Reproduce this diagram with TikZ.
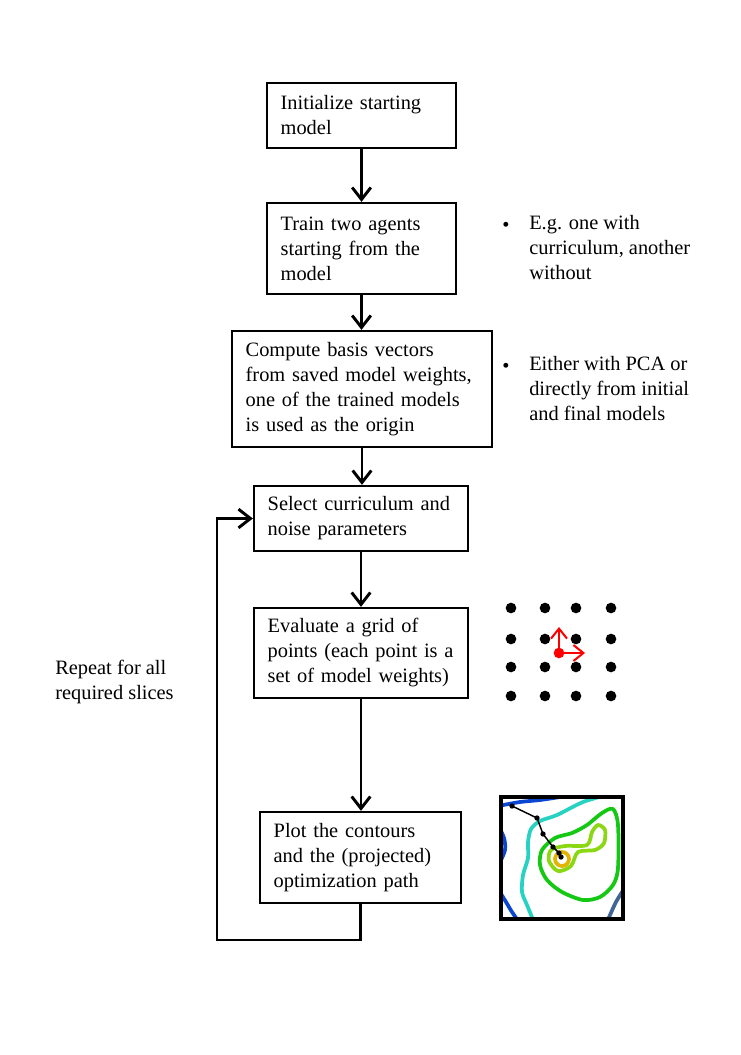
\documentclass[tikz,border=0pt]{standalone}
\usepackage{fontspec}
\setmainfont{Liberation Serif}
\usetikzlibrary{arrows.meta,positioning}
\definecolor{cBlue}{RGB}{10,70,210}
\definecolor{cTeal}{RGB}{40,210,195}
\definecolor{cGreen}{RGB}{20,200,20}
\definecolor{cLime}{RGB}{140,215,20}
\definecolor{cGold}{RGB}{225,180,0}
\definecolor{cSlate}{RGB}{65,100,150}
\tikzset{
  box/.style={draw, line width=1.7pt, align=left, inner xsep=10.25pt, inner ysep=0pt,
    font=\fontsize{15.3}{18.75}\selectfont},
  note/.style={align=left, inner sep=0pt, font=\fontsize{15.3}{18.75}\selectfont},
  flow/.style={line width=2.2pt, -{Straight Barb[length=9pt,width=14pt]}},
  axis/.style={red, line width=1.5pt, -{Straight Barb[length=7.5pt,width=12pt]}},
  contour/.style={line width=2.8pt, line cap=round, line join=round},
}

\begin{document}
\begin{tikzpicture}[x=0.75pt,y=-0.75pt]
\useasboundingbox (0,0) rectangle (741,1055);

\node[box, text width=121.25pt, minimum height=48.75pt] (init) at (361.5,115.5) {Initialize starting\\model};
\node[box, text width=121.25pt, minimum height=68.25pt] (train) at (361.5,248.5) {Train two agents\\starting from the\\model};
\node[box, text width=174.5pt, minimum height=87pt] (basis) at (362,389) {Compute basis vectors\\from saved model weights,\\one of the trained models\\is used as the origin};
\node[box, text width=140pt, minimum height=48.75pt] (select) at (361,518.5) {Select curriculum and\\noise parameters};
\node[box, text width=140pt, minimum height=67.5pt] (evaluate) at (361,653) {Evaluate a grid of\\points (each point is a\\set of model weights)};
\node[box, text width=130.25pt, minimum height=68.25pt] (plot) at (360.5,857.5) {Plot the contours\\and the (projected)\\optimization path};

\foreach \a/\b in {init/train, train/basis, basis/select, select/evaluate, evaluate/plot}
  \draw[flow] (\a.south) -- (\a.south |- \b.north);
\coordinate (loopCorner) at (217,940);
\draw[flow] (plot.south) |- (loopCorner) |- (select.west);

\node[note, anchor=west] (noteTrain) at (529,248) {E.g. one with\\curriculum, another\\without};
\node[note] (bulletTrain) at (506,227) {•};
\node[note, anchor=west] (noteBasis) at (529,389) {Either with PCA or\\directly from initial\\and final models};
\node[note] (bulletBasis) at (506,368) {•};
\node[note, anchor=west] (repeat) at (55,681.5) {Repeat for all\\required slices};

\foreach \gx in {511,545,576,611}
  \foreach \gy in {608,639,667,696}
    \fill (\gx,\gy) circle (4pt);
\fill[red] (559,653) coordinate (origin) circle (4pt);
\draw[axis] (origin) -- (559,627);
\draw[axis] (origin) -- (585,653);

\begin{scope}
\clip (501,797) rectangle (623,919);
\draw[contour, cBlue] plot[smooth] coordinates {(498,806) (520,802) (540,800) (560,797)};
\draw[contour, cBlue] plot[smooth] coordinates {(498,825) (504,838) (505,850) (500,862)};
\draw[contour, cBlue] plot[smooth] coordinates {(498,889) (506,902) (512,912) (519,922)};
\draw[contour, cSlate] plot[smooth] coordinates {(626,886) (616,902) (607,922)};
\draw[contour, cTeal] plot[smooth] coordinates {(607,795) (583,802) (557,815) (540,821) (531,829)
  (528,842) (528,858) (523,875) (522,892) (527,905) (534,922)};
\draw[contour, cGreen] plot[smooth cycle] coordinates {(613,809) (618,825) (618,868) (613,885)
  (600,897) (583,900) (562,892) (547,880) (540,865) (542,850) (555,838) (572,833) (587,825) (602,813)};
\draw[contour, cLime] plot[smooth cycle] coordinates {(587,845) (592,832) (598,825) (605,830)
  (604,843) (595,850) (578,852) (571,866) (558,871) (549,861) (551,850) (565,846)};
\draw[contour, cGold] (562,859) circle (5.25pt);
\draw[line width=1.1pt] (512,806) coordinate (p1) -- (537,818) coordinate (p2) -- (543,834) coordinate (p3)
  -- (553,847) coordinate (p4) -- (559,853) coordinate (p5) -- (561,857) coordinate (p6);
\foreach \i in {1,...,6}
  \fill (p\i) circle (2pt);
\end{scope}
\draw[line width=2.4pt] (501,797) rectangle (623,919);

\end{tikzpicture}
\end{document}
